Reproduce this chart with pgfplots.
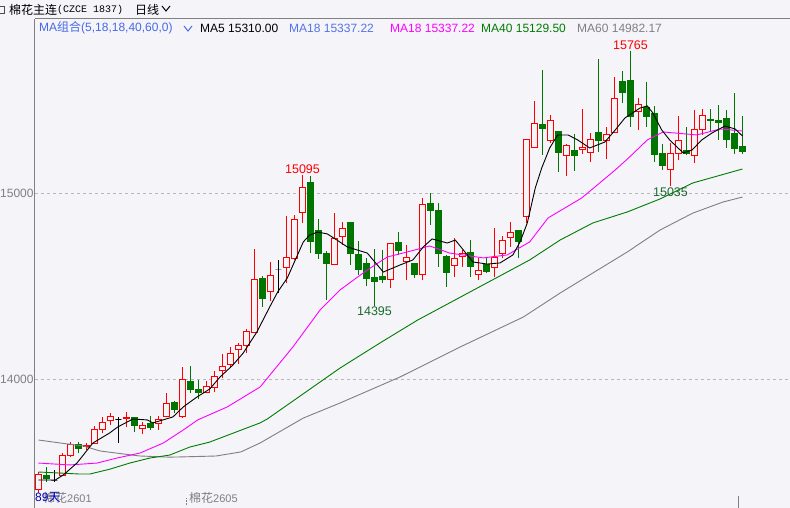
\documentclass[border=0pt]{standalone}
\usepackage{fontspec}
\setmainfont{Liberation Sans}
\newfontfamily\cjk{Noto Sans CJK SC}
\newfontfamily\mono{Liberation Mono}
\usepackage{pgfplots}
\pgfplotsset{compat=1.18}
\usepackage{pgfplotstable}

\definecolor{bgc}{RGB}{244,244,249}
\definecolor{kred}{RGB}{255,0,0}
\definecolor{kgreen}{RGB}{0,118,0}
\definecolor{ma18b}{RGB}{85,115,232}
\definecolor{ma18}{RGB}{255,0,255}
\definecolor{ma40}{RGB}{0,125,0}
\definecolor{ma60}{RGB}{128,128,128}
\definecolor{axgray}{RGB}{128,128,128}
\definecolor{lowlbl}{RGB}{25,105,45}
\definecolor{maset}{RGB}{70,105,230}

% daily candles: index, open, high, low, close
\pgfplotstableread{
i  o     h     l     c
0  13407 13502 13387 13489
1  13480 13529 13448 13464
2  13457 13511 13448 13457
3  13482 13604 13479 13590
4  13590 13660 13579 13649
5  13649 13661 13600 13628
6  13637 13658 13618 13645
7  13651 13747 13651 13726
8  13726 13797 13708 13767
9  13778 13816 13753 13797
10 13783 13794 13658 13783
11 13787 13824 13740 13794
12 13794 13794 13717 13751
13 13733 13771 13703 13749
14 13763 13801 13726 13738
15 13760 13801 13726 13783
16 13800 13923 13794 13866
17 13871 13882 13819 13837
18 13797 14066 13789 13998
19 13984 14070 13923 13941
20 13941 13995 13891 13929
21 13929 13989 13923 13959
22 13956 14045 13929 14012
23 14047 14134 14004 14068
24 14080 14170 14067 14138
25 14160 14196 14081 14179
26 14179 14267 14138 14254
27 14251 14697 14246 14536
28 14538 14554 14389 14434
29 14468 14631 14421 14558
30 14586 14640 14461 14586
31 14601 14878 14515 14654
32 14649 14882 14640 14855
33 14896 15095 14837 15030
34 15057 15090 14676 14738
35 14801 14859 14644 14674
36 14676 14690 14425 14622
37 14618 14891 14613 14756
38 14766 14846 14720 14810
39 14840 14840 14613 14672
40 14667 14744 14559 14590
41 14622 14649 14500 14541
42 14545 14697 14395 14524
43 14550 14694 14515 14536
44 14536 14730 14488 14730
45 14733 14792 14667 14690
46 14632 14720 14532 14651
47 14622 14622 14541 14563
48 14563 14971 14532 14939
49 14944 15002 14828 14905
50 14905 14945 14604 14676
51 14661 14667 14496 14574
52 14608 14756 14550 14649
53 14661 14694 14604 14676
54 14681 14747 14547 14604
55 14563 14649 14532 14581
56 14613 14649 14569 14577
57 14600 14810 14550 14654
58 14672 14769 14649 14742
59 14762 14846 14712 14788
60 14796 14796 14649 14738
61 14873 15285 14840 15285
62 15245 15495 15240 15375
63 15366 15661 15204 15349
64 15280 15419 15268 15391
65 15333 15333 15111 15219
66 15199 15262 15094 15253
67 15230 15317 15118 15201
68 15235 15452 15210 15246
69 15219 15324 15168 15289
70 15326 15720 15222 15281
71 15280 15356 15181 15316
72 15326 15626 15321 15509
73 15598 15658 15482 15540
74 15605 15765 15357 15411
75 15438 15509 15339 15478
76 15458 15595 15357 15411
77 15425 15465 15169 15208
78 15213 15262 15124 15148
79 15124 15271 15035 15212
80 15213 15414 15178 15280
81 15231 15353 15204 15213
82 15203 15446 15160 15339
83 15339 15452 15312 15419
84 15396 15450 15329 15390
85 15390 15473 15285 15381
86 15401 15446 15240 15289
87 15321 15539 15207 15240
88 15249 15414 15210 15222
}\candles

\pgfplotsset{
  upc/.style={draw=kred, fill=bgc, line width=1pt},
  dnc/.style={draw=kgreen, fill=kgreen, line width=1pt},
  dojic/.style={draw=black, line width=1pt},
}

\begin{document}
\begin{tikzpicture}
\fill[bgc] (0,0) rectangle (790pt,508pt);
\useasboundingbox (0,0) rectangle (790pt,508pt);

\begin{axis}[
  at={(35pt,0pt)}, anchor=south west,
  scale only axis,
  width=755pt, height=489pt,
  xmin=-0.4375, xmax=93.94,
  ymin=13306.5, ymax=15935.4,
  axis x line=none,
  axis y line*=left,
  y axis line style={axgray, line width=1pt},
  major tick length=0pt,
  xtick=\empty,
  ytick={14000,15000},
  scaled y ticks=false,
  ymajorgrids,
  grid style={dash pattern=on 3pt off 3pt, gray!55, line width=0.8pt},
  yticklabel style={font=\fontsize{12}{14}\selectfont, text=axgray, inner sep=0pt, xshift=-1.2pt},
  /pgf/number format/1000 sep={},
  /pgf/number format/assume math mode=true,
]
\pgfplotstablegetrowsof{\candles}
\pgfmathtruncatemacro\lastrow{\pgfplotsretval-1}
\pgfplotsforeachungrouped \k in {0,...,\lastrow}{%
  \pgfplotstablegetelem{\k}{i}\of\candles \let\I\pgfplotsretval
  \pgfplotstablegetelem{\k}{o}\of\candles \let\O\pgfplotsretval
  \pgfplotstablegetelem{\k}{h}\of\candles \let\H\pgfplotsretval
  \pgfplotstablegetelem{\k}{l}\of\candles \let\L\pgfplotsretval
  \pgfplotstablegetelem{\k}{c}\of\candles \let\C\pgfplotsretval
  \pgfmathsetmacro\lo{min(\O,\C)}%
  \pgfmathsetmacro\hi{max(\O,\C)}%
  \pgfmathsetmacro\xl{\I-0.375}%
  \pgfmathsetmacro\xr{\I+0.375}%
  \ifdim\C pt>\O pt \def\sty{upc}\def\wc{kred}\else
    \ifdim\C pt<\O pt \def\sty{dnc}\def\wc{kgreen}\else \def\sty{dojic}\def\wc{black}\fi\fi
  \edef\doit{%
    \noexpand\addplot[\wc, line width=1pt] coordinates {(\I,\L) (\I,\H)};
    \noexpand\addplot[\sty] coordinates {(\xl,\lo) (\xr,\lo) (\xr,\hi) (\xl,\hi)} -- cycle;
  }%
  \doit
}

% MA60
\addplot[ma60, line width=0.9pt] coordinates {
(0,13672) (2.7,13656) (5.6,13640) (7.7,13613) (11.9,13590) (12.7,13586) (16.3,13580)
(17.7,13581) (22.2,13586) (25.3,13608) (27.7,13656) (33.1,13790) (37.7,13871)
(45.2,14011) (52.7,14172) (60.6,14333) (65.2,14462) (69.3,14570) (73.6,14683)
(77.7,14801) (81.8,14892) (85.6,14952) (88,14978)};
% MA40
\addplot[ma40, line width=0.9pt] coordinates {
(0,13500) (5.2,13489) (6.4,13489) (8.9,13515) (11.4,13548) (13.9,13575) (16.4,13591)
(18.9,13634) (21.4,13661) (27.7,13764) (28.6,13785) (37.7,14059) (42.7,14194)
(47.4,14317) (61.4,14640) (65.2,14747) (69.3,14839) (73.6,14898) (77.7,14968)
(81.8,15054) (88,15129)};
% MA18
\addplot[ma18, line width=0.9pt] coordinates {
(0,13548) (3.9,13538) (7.3,13548) (9.8,13575) (12.7,13602) (15.6,13656) (18.1,13726)
(19.9,13780) (23.6,13850) (27.7,13957) (31.8,14172) (35.2,14371) (37.7,14479)
(41.1,14586) (43.6,14656) (46.1,14683) (48.9,14715) (51.4,14677) (55.6,14651)
(58.6,14667) (61.4,14737) (63.7,14866) (67.9,14973) (72.1,15124) (73.9,15194)
(76.1,15285) (78.1,15328) (82.3,15312) (85.2,15344) (88,15333)};
% MA5
\addplot[black, line width=0.9pt] coordinates {
(0,13457) (2.1,13457) (3.1,13484) (4.8,13548) (6.8,13656) (8.9,13710) (9.9,13742)
(11.8,13785) (13.6,13780) (14.3,13764) (16.8,13796) (18.1,13850) (19.8,13903)
(21.4,13946) (22.7,14011) (24.3,14075) (25.6,14140) (27.3,14253) (28.9,14387)
(29.9,14468) (31.1,14543) (32.1,14640) (33.1,14737) (33.9,14774) (34.9,14790)
(36.1,14780) (37.3,14747) (38.6,14710) (41.1,14677) (43.1,14575) (45.2,14613)
(46.8,14640) (48.1,14710) (49.2,14753) (51.1,14731) (52.1,14747) (53.1,14694)
(54.3,14629) (56.1,14618) (57.7,14624) (59.3,14667) (60.2,14737) (61.1,14839)
(62.1,15027) (62.9,15134) (63.9,15242) (64.9,15312) (66.2,15312) (67.4,15285)
(68.9,15242) (70.8,15274) (72.1,15339) (73.3,15403) (75.2,15457) (76.1,15468)
(76.8,15430) (77.9,15339) (78.9,15285) (80.6,15215) (81.7,15231) (82.9,15285)
(84.2,15323) (85.8,15360) (87.1,15344) (88,15306)};

\node[kred, anchor=south, inner sep=1pt, font=\fontsize{12.5}{14}\selectfont] at (axis cs:33,15095) {15095};
\node[kred, anchor=south, inner sep=1pt, font=\fontsize{12.5}{14}\selectfont] at (axis cs:74,15765) {15765};
\node[lowlbl, anchor=north, inner sep=1.5pt, font=\fontsize{12.5}{14}\selectfont] at (axis cs:42,14395) {14395};
\node[lowlbl, anchor=north, inner sep=1.5pt, font=\fontsize{12.5}{14}\selectfont] at (axis cs:79,15035) {15035};
\end{axis}

% frame line at top
\draw[axgray, line width=1pt] (35pt,489pt) -- (790pt,489pt);

% header
\draw[black!70, line width=0.8pt] (-3pt,495pt) rectangle (4pt,502pt);
\node[anchor=west, inner sep=0pt] at (9pt,498.5pt) {\cjk\fontsize{12}{13}\selectfont 棉花主连};
\node[anchor=west, inner sep=0pt] at (57pt,498.5pt) {\mono\fontsize{10}{12}\selectfont (CZCE 1837)};
\node[anchor=west, inner sep=0pt] at (135pt,498.5pt) {\cjk\fontsize{12}{13}\selectfont 日线};
\draw[black, line width=1pt] (162pt,502pt) -- (166pt,497pt) -- (170pt,502pt);

% MA legend row
\begin{scope}[every node/.style={anchor=west, inner sep=0pt, font=\fontsize{12}{14}\selectfont}]
\node[text=maset] at (39pt,480pt) {MA{\cjk 组合}(5,18,18,40,60,0)};
\draw[maset, line width=1pt] (184pt,482pt) -- (188pt,477pt) -- (192pt,482pt);
\node[text=black] at (200pt,480pt) {MA5 15310.00};
\node[text=ma18b] at (289pt,480pt) {MA18 15337.22};
\node[text=ma18] at (390pt,480pt) {MA18 15337.22};
\node[text=ma40] at (481pt,480pt) {MA40 15129.50};
\node[text=ma60] at (577pt,480pt) {MA60 14982.17};
\end{scope}

% bottom date strip
\node[anchor=west, inner sep=0pt, text=axgray] at (43pt,10pt) {{\cjk\fontsize{12}{14}\selectfont 棉花}\fontsize{11}{13}\selectfont 2601};
\node[anchor=west, inner sep=0pt, text=axgray] at (189pt,10pt) {{\cjk\fontsize{12}{14}\selectfont 棉花}\fontsize{11}{13}\selectfont 2605};
\node[anchor=west, inner sep=0pt, text=blue!75!black] at (35pt,11pt) {\fontsize{12}{14}\selectfont 89{\cjk 天}};
\draw[axgray, line width=0.8pt, dash pattern=on 2pt off 1pt] (186pt,3pt) -- (186pt,10pt);
\draw[axgray, line width=1pt] (738pt,0pt) -- (738pt,12pt);
\end{tikzpicture}
\end{document}
